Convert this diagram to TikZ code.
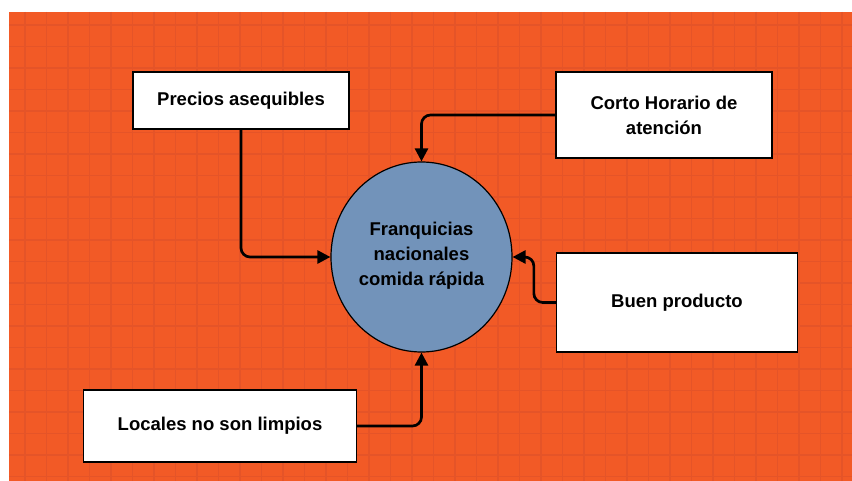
\documentclass[tikz,border=0pt]{standalone}
\usepackage{fontspec}
\setmainfont{Liberation Sans}
\usetikzlibrary{positioning}
\usetikzlibrary{shapes.geometric, arrows.meta}
\definecolor{fondo}{RGB}{242,90,38}
\definecolor{rejilla}{RGB}{229,84,40}
\definecolor{azul}{RGB}{114,147,186}

\tikzset{
  caja/.style={draw, fill=white, line width=1.3pt, inner sep=0pt, align=center, font=\fontsize{18.5}{25}\selectfont\bfseries},
  texto/.style={align=center, inner sep=0pt, font=\fontsize{18.5}{25}\selectfont\bfseries},
  flecha/.style={-{Triangle[length=13pt,width=13pt]}, line width=2.7pt, rounded corners=9pt},
}

\begin{document}
\begin{tikzpicture}[x=1pt,y=-1pt]
        \useasboundingbox (0,0) rectangle (852,481);
        \fill[white] (0,0) rectangle (852,481);
        \fill[fondo] (9,12) rectangle (852,481);
        % rejilla
        \foreach \k in {0,...,38}
            \draw[rejilla, line width=1.2pt] ({25+21.5*\k},12) -- ({25+21.5*\k},481);
        \foreach \k in {0,...,21}
            \draw[rejilla, line width=1.2pt] (9,{25+21.5*\k}) -- (852,{25+21.5*\k});

        \node (franq)[ellipse, draw, fill=azul, line width=1.2pt, minimum width=181, minimum height=190] at (421.5,257) {};
        \node (franqtxt)[texto] at ([yshift=1]franq) {Franquicias\\nacionales\\comida rápida};

        \node (precios)[caja, minimum width=216, minimum height=57] at (241,100.5) {Precios asequibles};
        \node (corto)[caja, minimum width=216, minimum height=86] at (664,115) {Corto Horario de\\atención};
        \node (buen)[caja, minimum width=241, minimum height=99] at (677,302.5) {Buen producto};
        \node (locales)[caja, minimum width=273, minimum height=72] at (220,426) {Locales no son limpios};

        \draw [flecha] (precios) |- (franq);
        \draw [flecha] (corto) -| (franq);
        \draw [flecha] (buen.west) -- ++(-22,0) |- (franq);
        \draw [flecha] (locales) -| (franq);
    \end{tikzpicture}
\end{document}
